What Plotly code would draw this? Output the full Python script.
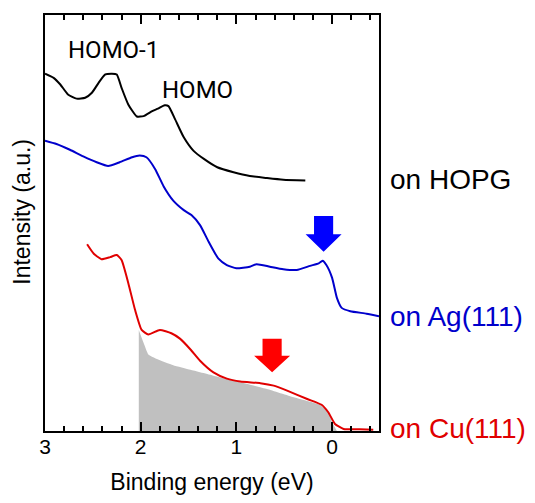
import plotly.graph_objects as go

# Binding energy (eV) and intensity (a.u.)
hopg_E = [3.00, 2.91, 2.84, 2.76, 2.67, 2.58, 2.51, 2.44, 2.37, 2.30, 2.25, 2.20, 2.13, 2.04, 1.97,
          1.88, 1.82, 1.75, 1.71, 1.64, 1.55, 1.45, 1.34, 1.20, 1.03, 0.86, 0.68, 0.51, 0.28]
hopg_I = [85.9, 84.9, 83.3, 80.9, 79.9, 80.1, 81.3, 83.7, 85.7, 85.9, 85.7, 82.5, 78.5, 75.6, 75.7,
          76.9, 77.5, 78.3, 78.1, 74.9, 70.6, 67.4, 65.4, 63.4, 62.2, 61.3, 60.8, 60.4, 60.2]

ag_E = [3.00, 2.88, 2.74, 2.60, 2.46, 2.34, 2.22, 2.09, 2.01, 1.94, 1.85, 1.76, 1.66, 1.55, 1.47,
        1.38, 1.29, 1.19, 1.10, 1.00, 0.86, 0.79, 0.65, 0.51, 0.37, 0.23, 0.14, 0.10, 0.06, 0.00,
        -0.05, -0.10, -0.19, -0.36, -0.49]
ag_I = [69.8, 69.0, 67.6, 66.0, 64.6, 63.7, 64.6, 65.8, 66.2, 65.8, 63.0, 58.8, 55.4, 53.1, 51.9,
        49.5, 45.5, 41.5, 39.9, 39.1, 39.5, 40.1, 39.5, 38.9, 38.7, 39.7, 40.3, 40.9, 39.9, 36.8,
        32.0, 29.6, 28.8, 28.2, 27.6]

cu_E = [2.56, 2.49, 2.41, 2.32, 2.25, 2.20, 2.13, 2.06, 1.99, 1.92, 1.80, 1.68, 1.59, 1.48, 1.38,
        1.24, 1.10, 0.96, 0.75, 0.61, 0.47, 0.26, 0.11, 0.04, -0.03, -0.12, -0.29, -0.43]
cu_I = [44.9, 42.6, 41.3, 41.8, 42.3, 41.1, 35.6, 29.2, 24.3, 23.2, 24.3, 23.5, 22.2, 19.6, 16.9,
        14.1, 12.6, 11.9, 11.5, 10.9, 9.7, 7.7, 6.3, 4.5, 1.7, 0.5, 0.4, 0.3]

bg_E = [2.02, 1.97, 1.92, 1.83, 1.66, 1.48, 1.24, 0.96, 0.68, 0.40, 0.13, 0.04, 0.00, -0.05]
bg_I = [24.3, 21.2, 18.4, 17.3, 15.8, 14.7, 13.3, 11.7, 10.1, 8.1, 6.3, 4.5, 2.1, 0.0]

x_ticks = [3, 2, 1, 0]
x_ticklabels = ["3", "2", "1", "0"]

# arrows: center energy, shaft top, head base, tip (intensity units)
arrow_E = [0.089, 0.627]
arrow_top = [51.7, 22.2]
arrow_base = [47.3, 18.1]
arrow_tip = [43.1, 14.1]
arrow_colors = ["#0000ff", "#ff0000"]

labels = ["on HOPG", "on Ag(111)", "on Cu(111)"]
label_I = [60.5, 27.6, 0.6]
label_colors = ["#000000", "#0000cc", "#e00000"]

peak_names = ["HOMO-1", "HOMO"]
peak_E = [2.28, 1.405]
peak_I = [91.7, 81.9]

fig = go.Figure()
fig.add_trace(go.Scatter(x=bg_E, y=bg_I, mode="lines",
                         line=dict(width=0, color="#c0c0c0", shape="spline", smoothing=0.4),
                         fill="tozeroy", fillcolor="#c0c0c0", hoverinfo="skip"))
fig.add_trace(go.Scatter(x=hopg_E, y=hopg_I, mode="lines",
                         line=dict(color="#000000", width=2, shape="spline", smoothing=0.5)))
fig.add_trace(go.Scatter(x=ag_E, y=ag_I, mode="lines",
                         line=dict(color="#0000cc", width=2, shape="spline", smoothing=0.5)))
fig.add_trace(go.Scatter(x=cu_E, y=cu_I, mode="lines",
                         line=dict(color="#e00000", width=2, shape="spline", smoothing=0.5)))

shaft_hw = 0.1
head_hw = 0.188
for e, t, b, tip, c in zip(arrow_E, arrow_top, arrow_base, arrow_tip, arrow_colors):
    path = (f"M {e-shaft_hw},{t} L {e+shaft_hw},{t} L {e+shaft_hw},{b} L {e+head_hw},{b} "
            f"L {e},{tip} L {e-head_hw},{b} L {e-shaft_hw},{b} Z")
    fig.add_shape(type="path", path=path, xref="x", yref="y", fillcolor=c, line=dict(width=0))

for t, y, c in zip(labels, label_I, label_colors):
    fig.add_annotation(text=t, x=1.027, xref="paper", y=y, yref="y", xanchor="left", yanchor="middle",
                       showarrow=False, font=dict(family="Liberation Sans, Arial", size=28, color=c))

for t, e, y in zip(peak_names, peak_E, peak_I):
    fig.add_annotation(text=t, x=e, y=y, xref="x", yref="y", showarrow=False,
                       font=dict(family="Roboto", size=24, color="#000000"))

fig.add_annotation(text="Intensity (a.u.)", x=-0.069, y=0.527, xref="paper", yref="paper",
                   xanchor="center", yanchor="middle",
                   textangle=-90, showarrow=False, font=dict(family="Liberation Sans, Arial", size=23, color="#000"))

fig.update_layout(
    width=535, height=503,
    margin=dict(l=45, r=156, t=15, b=69),
    paper_bgcolor="white", plot_bgcolor="white",
    showlegend=False,
    font=dict(family="Liberation Sans, Arial", color="#000"),
    xaxis=dict(range=[3.0, -0.49], showline=True, linecolor="#000", linewidth=2, mirror="ticks",
               ticks="inside", ticklen=9, tickwidth=2, tickcolor="#000",
               tickvals=x_ticks, ticktext=x_ticklabels, tickfont=dict(size=21),
               ticklabelstandoff=-4,
               minor=dict(dtick=0.2, ticks="inside", ticklen=5, tickwidth=2, tickcolor="#000"),
               showgrid=False, zeroline=False,
               title=dict(text="Binding energy (eV)", font=dict(size=23), standoff=17)),
    yaxis=dict(range=[0, 100], showline=True, linecolor="#000", linewidth=2, mirror=True,
               ticks="", showticklabels=False, showgrid=False, zeroline=False),
)

fig.write_html("out.html")
